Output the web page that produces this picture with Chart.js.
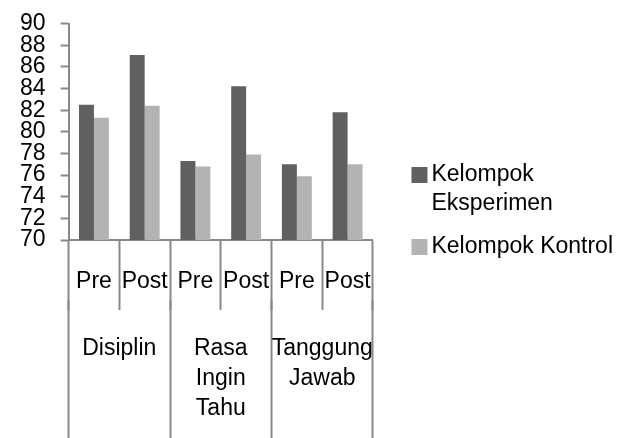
<!DOCTYPE html>
<html lang="id">
<head>
  <meta charset="UTF-8">
  <title>Kelompok Eksperimen dan Kontrol</title>
  <script src="https://cdn.jsdelivr.net/npm/chart.js"></script>
  <style>
    html, body {
      margin: 0;
      padding: 0;
      background: #fff;
    }
    #wrap {
      width: 630px;
      height: 438px;
    }
  </style>
</head>
<body>
  <div id="wrap"><canvas id="grafik"></canvas></div>

  <script>
    // data
    const tahap = ['Pre', 'Post', 'Pre', 'Post', 'Pre', 'Post'];
    const aspek = ['Disiplin', ['Rasa', 'Ingin', 'Tahu'], ['Tanggung', 'Jawab']];
    const eksperimen = [82.5, 87.1, 77.3, 84.2, 77.0, 81.8];
    const kontrol = [81.3, 82.4, 76.8, 77.9, 75.9, 77.0];
    const namaSeri = [['Kelompok', 'Eksperimen'], 'Kelompok Kontrol'];

    const huruf = "'Liberation Sans', Arial, sans-serif";
    const abu = '#888888';

    Chart.defaults.font.family = huruf;
    Chart.defaults.font.size = 23;
    Chart.defaults.color = '#000';

    new Chart(document.getElementById('grafik'), {
      type: 'bar',
      data: {
        labels: tahap,
        datasets: [
          { label: namaSeri[0], data: eksperimen, backgroundColor: '#606060' },
          { label: namaSeri[1], data: kontrol, backgroundColor: '#b3b3b3' }
        ]
      },
      options: {
        responsive: true,
        maintainAspectRatio: false,
        animation: false,
        categoryPercentage: 0.59,
        barPercentage: 1,
        layout: { padding: { left: 5, top: 0, right: 7, bottom: 16 } },
        plugins: {
          tooltip: { enabled: false },
          legend: {
            position: 'right',
            maxWidth: 260,
            labels: {
              usePointStyle: true,
              pointStyle: 'rect',
              boxWidth: 1,
              boxHeight: 16,
              padding: 14,
              font: { size: 23, lineHeight: 1.26 }
            }
          }
        },
        scales: {
          y: {
            min: 70,
            max: 90,
            ticks: { stepSize: 2, padding: 15, autoSkip: false, font: { size: 23, lineHeight: 0.75 } },
            grid: { drawOnChartArea: false, tickLength: 8, tickColor: abu, tickWidth: 2 },
            border: { color: abu, width: 2 }
          },
          // ruang kosong antara grafik dan legenda
          jarak: {
            type: 'linear',
            position: 'right',
            weight: 0,
            ticks: { display: false },
            grid: { display: false },
            border: { display: false },
            afterFit: (s) => { s.width = 32; }
          },
          x: {
            weight: 0,
            offset: true,
            ticks: { padding: -42, maxRotation: 0, minRotation: 0, autoSkip: false },
            grid: { offset: true, drawOnChartArea: false, tickLength: 70, tickColor: abu, tickWidth: 2 },
            border: { color: abu, width: 2 },
            afterFit: (s) => { s.height = 60; }
          },
          x2: {
            type: 'category',
            position: 'bottom',
            weight: 1,
            labels: aspek,
            offset: true,
            ticks: { padding: -116, maxRotation: 0, minRotation: 0, autoSkip: false, font: { size: 23, lineHeight: 1.3 } },
            grid: { offset: true, drawOnChartArea: false, tickLength: 150, tickColor: abu, tickWidth: 2 },
            border: { display: false },
            afterFit: (s) => { s.height = 122; }
          }
        }
      }
    });
  </script>
</body>
</html>
